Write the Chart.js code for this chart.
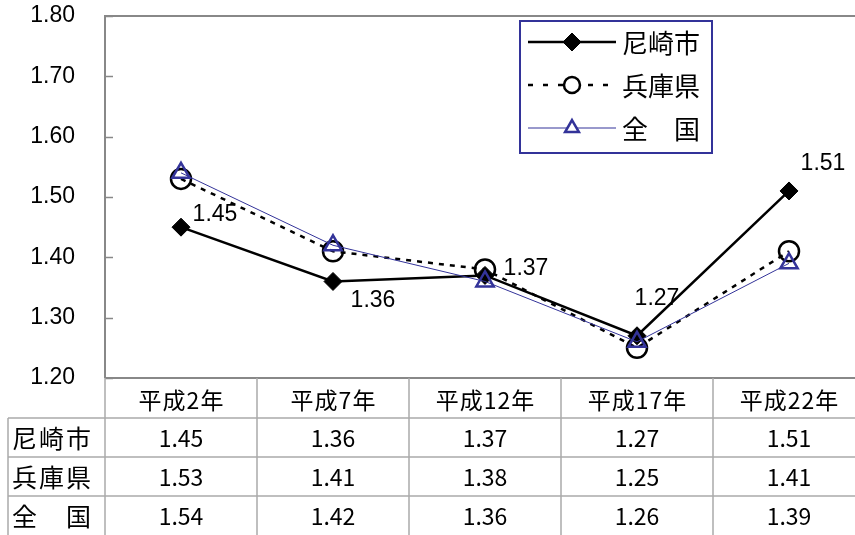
<!DOCTYPE html>
<html><head><meta charset="utf-8">
<script src="https://cdn.jsdelivr.net/npm/chart.js@4.4.0/dist/chart.umd.min.js"></script>
<style>html,body{margin:0;padding:0;background:#fff;overflow:hidden;width:855px;height:535px;}
#wrap{position:absolute;left:0;top:0;width:870px;height:535px;}</style>
</head><body><div id="wrap"><canvas id="c"></canvas></div>
<script>
const categories = ['平成2年','平成7年','平成12年','平成17年','平成22年'];
const seriesNames = ['尼崎市','兵庫県','全　国'];
const amagasaki = [1.45,1.36,1.37,1.27,1.51];
const hyogo = [1.53,1.41,1.38,1.25,1.41];
const zenkoku = [1.54,1.42,1.36,1.26,1.39];
const yTicks = [1.20,1.30,1.40,1.50,1.60,1.70,1.80];

const BLUE = '#333399';
const JP = '"Noto Sans CJK JP", sans-serif';
const NUM = '"Liberation Sans", Arial, sans-serif';

const seriesStyles = [
  {color:'#000', width:2.5, dash:[], legendDash:[], pointStyle:'rectRot', radius:9, fill:'#000', pbw:1},
  {color:'#000', width:2.5, dash:[5,6], legendDash:[5,10], pointStyle:'circle', radius:10, fill:'rgba(0,0,0,0)', pbw:2.5},
  {color:BLUE, width:1, dash:[], legendDash:[], pointStyle:'triangle', radius:10, fill:'rgba(0,0,0,0)', pbw:2.5}
];
const allSeries = [amagasaki, hyogo, zenkoku];
const orders = [1,2,0];

const datasets = allSeries.map((d,i)=>({
  label: seriesNames[i], data: d, order: orders[i],
  borderColor: seriesStyles[i].color, borderWidth: seriesStyles[i].width,
  borderDash: seriesStyles[i].dash, tension: 0,
  pointStyle: seriesStyles[i].pointStyle, pointRadius: seriesStyles[i].radius,
  pointBackgroundColor: seriesStyles[i].fill, pointBorderColor: seriesStyles[i].color,
  pointBorderWidth: seriesStyles[i].pbw, pointHoverRadius: seriesStyles[i].radius
}));

const labelOffsets = [[34,-13],[40,19],[41,-7],[20,-37],[34,-27]];

const decor = {
  id:'decor',
  afterDatasetsDraw(chart){
    const ctx = chart.ctx;
    const meta = chart.getDatasetMeta(0);
    ctx.save();
    ctx.font = '23px ' + NUM;
    ctx.fillStyle = '#000';
    ctx.textAlign = 'center'; ctx.textBaseline = 'middle';
    meta.data.forEach((p,i)=>{
      ctx.fillText(amagasaki[i].toFixed(2), p.x + labelOffsets[i][0], p.y + labelOffsets[i][1]);
    });
    ctx.restore();
  },
  afterDraw(chart){
    const ctx = chart.ctx, a = chart.chartArea, ys = chart.scales.y;
    const L = a.left, R = a.right, T = a.top, B = a.bottom;
    ctx.save();
    // frame
    ctx.strokeStyle = '#888'; ctx.lineWidth = 2;
    ctx.beginPath();
    ctx.moveTo(L, B); ctx.lineTo(L, T); ctx.lineTo(R, T);
    ctx.moveTo(L, B); ctx.lineTo(R, B);
    ctx.stroke();
    ctx.lineWidth = 1.5;
    yTicks.forEach(v=>{
      const y = Math.round(ys.getPixelForValue(v)) + 0.5;
      ctx.beginPath(); ctx.moveTo(L, y); ctx.lineTo(L + 8, y); ctx.stroke();
    });
    // table
    const colW = (R - L) / categories.length;
    const headerB = B + 40, rowH = 39;
    const tableLeft = 8;
    ctx.strokeStyle = '#aaa'; ctx.lineWidth = 1.5;
    ctx.beginPath();
    for (let i = 0; i <= categories.length; i++){
      const x = L + colW * i;
      ctx.moveTo(x, B); ctx.lineTo(x, 535);
    }
    for (let r = 0; r < seriesNames.length; r++){
      const y = headerB + rowH * r;
      ctx.moveTo(tableLeft, y); ctx.lineTo(R, y);
    }
    ctx.moveTo(tableLeft, headerB); ctx.lineTo(tableLeft, 535);
    ctx.stroke();
    ctx.fillStyle = '#000';
    ctx.textBaseline = 'middle'; ctx.textAlign = 'center';
    ctx.font = '23px ' + JP;
    try { ctx.letterSpacing = '1px'; } catch(e) {}
    categories.forEach((c,i)=>{
      ctx.fillText(c, L + colW*(i+0.5) + 0.5, (B + headerB)/2 + 2);
    });
    try { ctx.letterSpacing = '0px'; } catch(e) {}
    ctx.font = '23px ' + JP;
    allSeries.forEach((d,r)=>{
      const yc = headerB + rowH*(r+0.5) + 1;
      d.forEach((v,i)=>{
        ctx.fillText(v.toFixed(2), L + colW*(i+0.5), yc);
      });
    });
    ctx.textAlign = 'left';
    ctx.font = '25px ' + JP;
    try { ctx.letterSpacing = '2px'; } catch(e) {}
    seriesNames.forEach((n,r)=>{
      ctx.fillText(n, 12, headerB + rowH*(r+0.5) + 1);
    });
    try { ctx.letterSpacing = '0px'; } catch(e) {}
    // legend
    const lx = 520, ly = 21, lw = 192, lh = 132;
    ctx.fillStyle = '#fff'; ctx.fillRect(lx, ly, lw, lh);
    ctx.strokeStyle = BLUE; ctx.lineWidth = 2;
    ctx.strokeRect(lx, ly, lw, lh);
    const rowsY = [42, 85, 128];
    seriesNames.forEach((n,i)=>{
      const s = seriesStyles[i], y = rowsY[i];
      ctx.save();
      ctx.strokeStyle = s.color; ctx.lineWidth = s.width;
      ctx.setLineDash(s.legendDash);
      ctx.beginPath(); ctx.moveTo(528, y); ctx.lineTo(616, y); ctx.stroke();
      ctx.setLineDash([]);
      ctx.fillStyle = (i === 0) ? '#000' : '#fff';
      ctx.strokeStyle = s.color; ctx.lineWidth = s.pbw;
      Chart.helpers.drawPoint(ctx, {pointStyle: s.pointStyle, radius: i===0 ? 9 : 8, borderWidth: s.pbw, rotation: 0}, 572, y);
      ctx.restore();
      ctx.fillStyle = '#000'; ctx.font = '26px ' + JP;
      ctx.textAlign = 'left'; ctx.textBaseline = 'middle';
      ctx.fillText(n, 622, y + 1);
    });
    ctx.restore();
  }
};

new Chart(document.getElementById('c'), {
  type: 'line',
  data: { labels: categories, datasets },
  options: {
    responsive: true, maintainAspectRatio: false, animation: false, devicePixelRatio: 1,
    layout: { autoPadding: false, padding: { left: 0, top: 16, right: 5, bottom: 157 } },
    plugins: { legend: { display: false }, tooltip: { enabled: false } },
    scales: {
      x: { display: false, offset: true },
      y: {
        min: yTicks[0], max: yTicks[yTicks.length-1],
        afterFit(s){ s.width = 105; s.paddingTop = 0; s.paddingBottom = 0; },
        afterBuildTicks(s){ s.ticks = yTicks.map(v=>({value:v})); },
        grid: { display: false, drawTicks: false },
        border: { display: false },
        ticks: { padding: 30, color: '#000', font: { family: NUM, size: 23 },
          callback: v => Number(v).toFixed(2) }
      }
    }
  },
  plugins: [decor]
});
</script></body></html>
